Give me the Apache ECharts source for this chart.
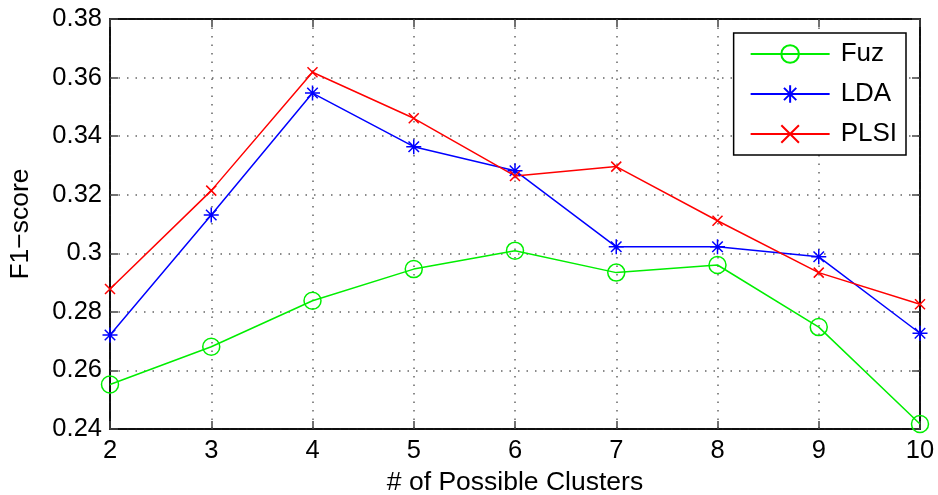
<!DOCTYPE html>
<html><head><meta charset="utf-8">
<script src="https://cdn.jsdelivr.net/npm/echarts@6/dist/echarts.min.js"></script>
<style>html,body{margin:0;padding:0;background:#fff}#c{width:938px;height:495px}</style>
</head><body><div id="c"></div>
<script>
const clusters = [2, 3, 4, 5, 6, 7, 8, 9, 10];
const fuz  = [0.2552, 0.2681, 0.2838, 0.2946, 0.3009, 0.2934, 0.2960, 0.2748, 0.2417];
const lda  = [0.2721, 0.3131, 0.3547, 0.3364, 0.3282, 0.3022, 0.3022, 0.2988, 0.2727];
const plsi = [0.2878, 0.3214, 0.3618, 0.3461, 0.3264, 0.3296, 0.3111, 0.2934, 0.2826];
const seriesNames = ['Fuz', 'LDA', 'PLSI'];
const xTitle = '# of Possible Clusters';
const yTitle = 'F1\u2212score';

const FONT = 'Liberation Sans, Arial, Helvetica, sans-serif';
const pair = arr => clusters.map((c, i) => [c, arr[i]]);
const asterisk = 'path://M10,0L10,20M0,10L20,10M3,3L17,17M3,17L17,3';
const xmark = 'path://M0,0L20,20M0,20L20,0';

const chart = echarts.init(document.getElementById('c'));
const mk = (name, data, color, symbol, size) => ({
  name, type: 'line', data: pair(data), symbol, symbolSize: size,
  showSymbol: true, animation: false,
  lineStyle: { color, width: 1.5 },
  itemStyle: { color: 'none', borderColor: color, borderWidth: 1.5 },
  emphasis: { disabled: true }
});
chart.setOption({
  backgroundColor: '#fff',
  animation: false,
  textStyle: { fontFamily: FONT },
  grid: { left: 110, right: 18, top: 19, bottom: 66, containLabel: false, outerBoundsMode: 'none',
    show: true, borderColor: '#000', borderWidth: 1.5 },
  legend: {
    orient: 'vertical', right: 32, top: 33,
    backgroundColor: '#fff', borderColor: '#000', borderWidth: 1.5,
    padding: [8, 9, 8, 16], itemGap: 14, itemWidth: 79, itemHeight: 22,
    textStyle: { fontSize: 26, color: '#000', fontFamily: FONT, padding: [0, 0, 0, 6] },
    data: seriesNames
  },
  xAxis: [{
    type: 'value', min: 2, max: 10, interval: 1,
    name: xTitle, nameLocation: 'middle', nameGap: 40,
    nameTextStyle: { fontSize: 26.5, color: '#000', fontFamily: FONT },
    axisLine: { show: true, lineStyle: { color: '#000', width: 1.5 } },
    axisTick: { show: true, inside: true, length: 8, lineStyle: { color: '#444', width: 1.5 } },
    axisLabel: { fontSize: 25.5, color: '#000', margin: 9, fontFamily: FONT },
    splitLine: { show: true, lineStyle: { color: '#666', width: 1.5, type: [1.5, 7] } }
  }, {
    type: 'value', min: 2, max: 10, interval: 1, position: 'top',
    axisLine: { show: true, lineStyle: { color: '#000', width: 1.5 } },
    axisTick: { show: true, inside: true, length: 8, lineStyle: { color: '#444', width: 1.5 } },
    axisLabel: { show: false }, splitLine: { show: false }
  }],
  yAxis: [{
    type: 'value', min: 0.24, max: 0.38, interval: 0.02,
    name: yTitle, nameLocation: 'middle', nameGap: 76,
    nameTextStyle: { fontSize: 26.5, color: '#000', fontFamily: FONT },
    axisLine: { show: true, lineStyle: { color: '#000', width: 1.5 } },
    axisTick: { show: true, inside: true, length: 8, lineStyle: { color: '#444', width: 1.5 } },
    axisLabel: { fontSize: 25.5, color: '#000', margin: 8, fontFamily: FONT,
      formatter: v => String(parseFloat(v.toFixed(2))) },
    splitLine: { show: true, lineStyle: { color: '#666', width: 1.5, type: [1.5, 7] } }
  }, {
    type: 'value', min: 0.24, max: 0.38, interval: 0.02, position: 'right',
    axisLine: { show: true, lineStyle: { color: '#000', width: 1.5 } },
    axisTick: { show: true, inside: true, length: 8, lineStyle: { color: '#444', width: 1.5 } },
    axisLabel: { show: false }, splitLine: { show: false }
  }],
  series: [
    mk(seriesNames[0], fuz, '#00ee00', 'circle', 17),
    mk(seriesNames[1], lda, '#0000ff', asterisk, 15),
    mk(seriesNames[2], plsi, '#ff0000', xmark, 10)
  ]
});
</script></body></html>
